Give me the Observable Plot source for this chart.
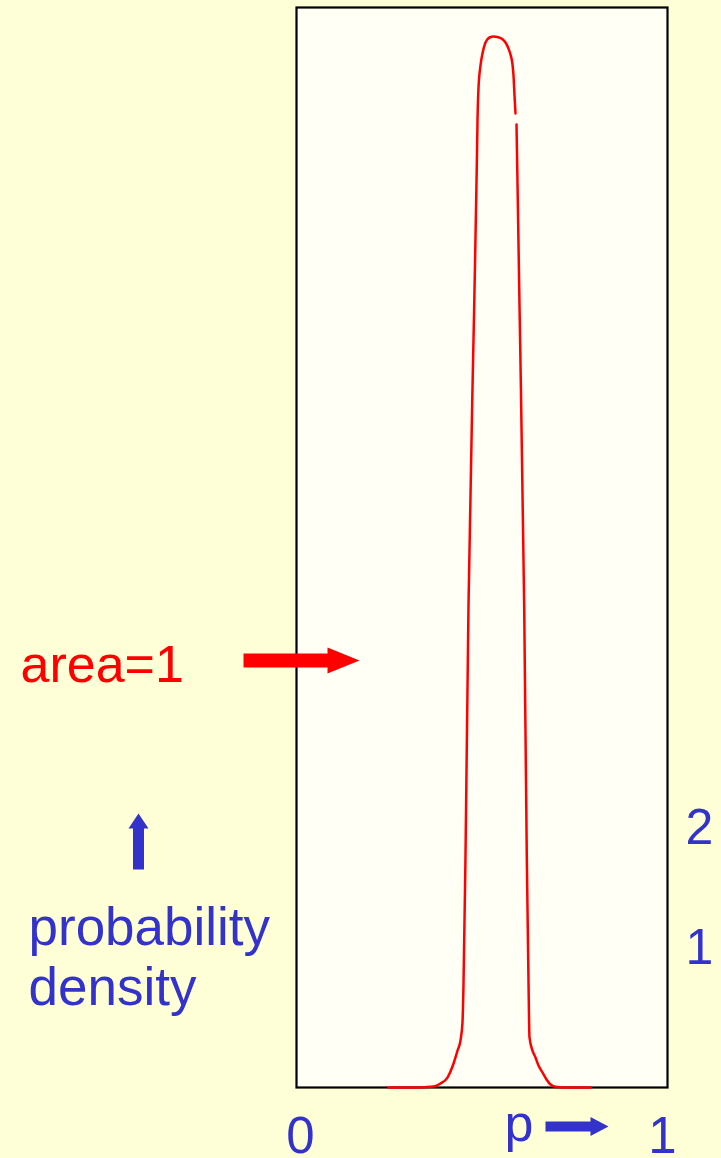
<!DOCTYPE html>
<html>
<head>
<meta charset="utf-8">
<script src="https://cdn.jsdelivr.net/npm/d3@7"></script>
<script src="https://cdn.jsdelivr.net/npm/@observablehq/plot@0.6"></script>
<style>
  html, body { margin: 0; padding: 0; background: #FFFFD7; overflow: hidden; }
  #chart svg { display: block; }
</style>
</head>
<body>
<div id="chart"></div>
<script>
// Posterior density of the proportion p: a narrow, flat-topped peak near p ≈ 0.54.
// A null density marks the small break in the right flank of the curve.
const pValues = [
  0.2480, 0.3073, 0.3477, 0.3693, 0.3881, 0.4070, 0.4205, 0.4340, 0.4420,
  0.4474, 0.4501, 0.4555, 0.4636, 0.4790, 0.4860, 0.4879, 0.4906, 0.4960,
  0.5013, 0.5094, 0.5202, 0.5310, 0.5418, 0.5526, 0.5633, 0.5714, 0.5768,
  0.5822, 0.5849, 0.5876, 0.5903, 0.5916, 0.5930, 0.5949, 0.6011, 0.6137,
  0.6207, 0.6253, 0.6280, 0.6361, 0.6442, 0.6523, 0.6631, 0.6739, 0.6846,
  0.7008, 0.7197, 0.7925
];
const densityValues = [
  0.000, 0.000, 0.003, 0.008, 0.033, 0.083, 0.175, 0.308, 0.392,
  0.542, 0.850, 1.933, 4.017, 6.517, 7.683, 8.058, 8.333, 8.517,
  8.617, 8.708, 8.750, 8.758, 8.754, 8.742, 8.708, 8.658, 8.608,
  8.525, 8.433, 8.267, 8.117, null, 8.025, 7.683, 6.517, 4.017,
  1.933, 0.892, 0.417, 0.308, 0.250, 0.183, 0.125, 0.067, 0.025,
  0.004, 0.000, 0.000
];

// Axis tick labels
const xTickLabels = [0, 1];
const yTickLabels = [1, 2];

// Annotation texts
const areaLabel = "area=1";
const yLabelLines = ["probability", "density"];
const xLabel = "p";

const curve = pValues.map((p, i) => ({p, density: densityValues[i]}));

const RED = "#FF0000";
const BLUE = "#3333CC";
const intFormat = d => String(d);

// Solid block arrow pointing right, tip at the origin.
function blockArrow(shaftLen, shaftW, headLen, headW) {
  return {
    draw(ctx) {
      const xh = -headLen, x0 = -(headLen + shaftLen);
      ctx.moveTo(0, 0);
      ctx.lineTo(xh, -headW / 2);
      ctx.lineTo(xh, -shaftW / 2);
      ctx.lineTo(x0, -shaftW / 2);
      ctx.lineTo(x0, shaftW / 2);
      ctx.lineTo(xh, shaftW / 2);
      ctx.lineTo(xh, headW / 2);
      ctx.closePath();
    }
  };
}

const note = (text, dx, dy, fill, fontSize = 52) =>
  Plot.text([text], {
    frameAnchor: "bottom-left", dx, dy, text: d => d,
    textAnchor: "start", lineAnchor: "bottom", fontSize, fill
  });

const arrow = (shape, dx, dy, fill, rotate = 0) =>
  Plot.dot([0], {
    frameAnchor: "bottom-left", dx, dy, symbol: shape, rotate,
    fill, stroke: "none", r: 10
  });

const chart = Plot.plot({
  width: 721,
  height: 1158,
  marginLeft: 296,
  marginRight: 54,
  marginTop: 7,
  marginBottom: 71,
  style: {
    background: "#FFFFD7",
    fontFamily: "'Liberation Sans', Arial, Helvetica, sans-serif",
    overflow: "visible"
  },
  x: {domain: [0, 1]},
  y: {domain: [0, 9]},
  marks: [
    Plot.frame({fill: "#FFFFF5", stroke: "#000000", strokeWidth: 2.2}),
    Plot.line(curve, {x: "p", y: "density", stroke: RED, strokeWidth: 2.5, curve: "monotone-x"}),
    Plot.axisY(yTickLabels, {
      anchor: "right", tickSize: 0, tickPadding: 18, fontSize: 50,
      color: BLUE, dy: -20, label: null, tickFormat: intFormat
    }),
    Plot.axisX([xTickLabels[0]], {
      anchor: "bottom", tickSize: 0, tickPadding: 29, fontSize: 51,
      color: BLUE, dx: 4, label: null, tickFormat: intFormat
    }),
    Plot.axisX([xTickLabels[1]], {
      anchor: "bottom", tickSize: 0, tickPadding: 29, fontSize: 51,
      color: BLUE, dx: -5, label: null, tickFormat: intFormat
    }),
    // "area=1" with its pointer into the plot
    note(areaLabel, -276, -406, RED),
    arrow(blockArrow(84, 14, 32, 26), 63, -427, RED),
    // vertical axis caption with its upward arrow
    arrow(blockArrow(41, 11, 15, 20), -158, -274, BLUE, -90),
    note(yLabelLines[0], -268, -143, BLUE, 53),
    note(yLabelLines[1], -268, -83, BLUE, 53),
    // horizontal axis caption with its arrow
    note(xLabel, 208, 53, BLUE),
    arrow(blockArrow(45, 10, 18, 19), 312, 39, BLUE)
  ]
});

document.getElementById("chart").appendChild(chart);
</script>
</body>
</html>
